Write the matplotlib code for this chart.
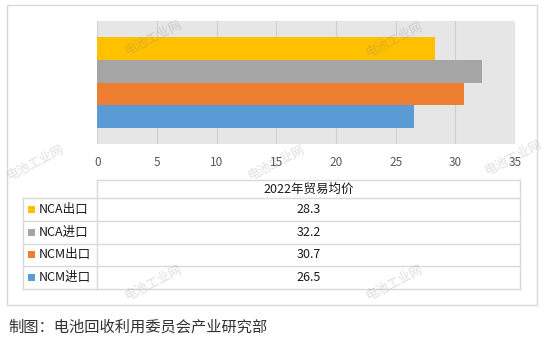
import numpy as np
import matplotlib.pyplot as plt
from matplotlib.patches import Rectangle

plt.rcParams['font.family'] = ['Noto Sans CJK SC', 'DejaVu Sans']

# data
series = ['NCA出口', 'NCA进口', 'NCM出口', 'NCM进口']
values = [28.3, 32.2, 30.7, 26.5]
colors = ['#FFC000', '#A5A5A5', '#ED7D31', '#5B9BD5']
header = '2022年贸易均价'
xticks = [0, 5, 10, 15, 20, 25, 30, 35]
caption = '制图：电池回收利用委员会产业研究部'
watermark = '电池工业网'

W, H = 547, 348
fig = plt.figure(figsize=(W / 100, H / 100), dpi=100)

# bar chart area (pixel layout)
px_left, px_right, px_top, px_bottom = 97.3, 515, 21, 144
ax = fig.add_axes([px_left / W, 1 - px_bottom / H,
                   (px_right - px_left) / W, (px_bottom - px_top) / H])
ax.set_facecolor('#E7E6E6')
h = 0.183
offsets = h * np.array([1.5, 0.5, -0.5, -1.5])
for off, v, c in zip(offsets, values, colors):
    ax.barh(off, v, height=h, color=c, zorder=3)
ax.set_xlim(0, 35)
ax.set_ylim(-0.5, 0.5)
ax.set_xticks(xticks)
ax.set_xticklabels([str(t) for t in xticks], fontsize=8.5, color='#595959')
ax.set_yticks([])
ax.tick_params(axis='x', length=0, pad=8.5)
ax.grid(axis='x', color='#D0CECE', lw=0.8, zorder=1)
for s in ax.spines.values():
    s.set_visible(False)

# overlay for table, border, caption, watermarks
ov = fig.add_axes([0, 0, 1, 1], zorder=5)
ov.set_xlim(0, W)
ov.set_ylim(H, 0)
ov.axis('off')
ov.patch.set_alpha(0)

line_c = '#D9D9D9'
ov.add_patch(Rectangle((7.3, 5), 537 - 7.3, 305.3 - 5, fill=False,
                       ec=line_c, lw=1))

# table
t_left, t_mid, t_right = 23.3, 97.3, 520.3
rows_y = [180, 198.3, 220.8, 243.5, 266.3, 289]
ov.plot([t_mid, t_right], [rows_y[0]] * 2, color=line_c, lw=1)
for y in rows_y[1:]:
    ov.plot([t_left, t_right], [y, y], color=line_c, lw=1)
ov.plot([t_left, t_left], [rows_y[1], rows_y[-1]], color=line_c, lw=1)
ov.plot([t_mid, t_mid], [rows_y[0], rows_y[-1]], color=line_c, lw=1)
ov.plot([t_right, t_right], [rows_y[0], rows_y[-1]], color=line_c, lw=1)

val_x = (t_mid + t_right) / 2
ov.text(val_x, (rows_y[0] + rows_y[1]) / 2, header, ha='center', va='center',
        fontsize=9, color='#1A1A1A')
for i, (name, v, c) in enumerate(zip(series, values, colors)):
    yc = (rows_y[i + 1] + rows_y[i + 2]) / 2
    ov.add_patch(Rectangle((27.5, yc - 3.5), 7, 7, color=c, lw=0))
    ov.text(38.5, yc, name, ha='left', va='center', fontsize=9, color='#1A1A1A')
    ov.text(val_x, yc, f'{v:.1f}', ha='center', va='center', fontsize=9,
            color='#1A1A1A')

ov.text(8, 327, caption, ha='left', va='center', fontsize=11, color='#333333')

# watermarks
for wx, wy in [(153, 38), (394, 40), (35, 163), (276, 163), (513, 158),
               (153, 283), (394, 283)]:
    ov.text(wx, wy, watermark, ha='center', va='center', rotation=27,
            fontsize=9, color='#808080', alpha=0.25)

fig.savefig('out.png', dpi=100)
